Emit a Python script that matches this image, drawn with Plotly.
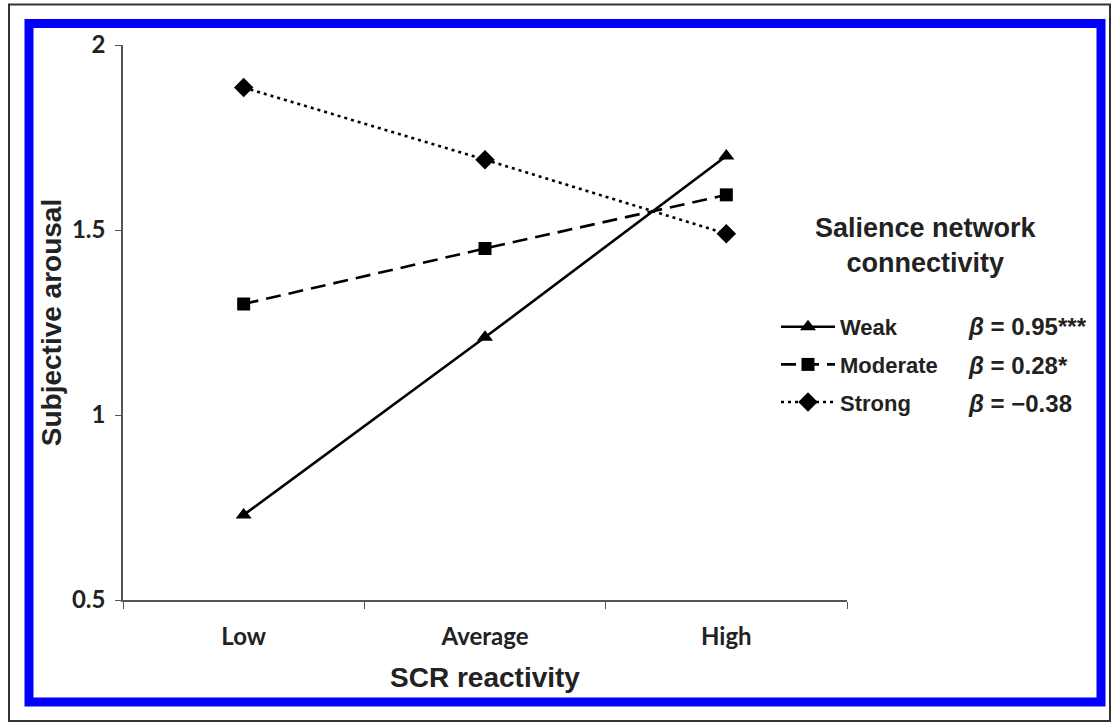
import plotly.graph_objects as go

categories = ["Low", "Average", "High"]
weak = [0.73, 1.21, 1.70]
moderate = [1.30, 1.45, 1.595]
strong = [1.885, 1.69, 1.49]
series_names = ["Weak", "Moderate", "Strong"]
betas = ["<i>β</i> = 0.95***", "<i>β</i> = 0.28*", "<i>β</i> = −0.38"]
y_ticks = [0.5, 1, 1.5, 2]

W, H = 1113, 723
L, R, T, B = 123, 1113 - 847, 45, 723 - 600
PW, PH = W - L - R, H - T - B

def px(x):
    return (x - L) / PW

def py(y):
    return (H - B - y) / PH

fig = go.Figure()
styles = [
    dict(dash="solid", symbol="triangle-up", size=14),
    dict(dash="15px,8px", symbol="square", size=13),
    dict(dash="3px,4px", symbol="diamond", size=15),
]
for i, (name, vals) in enumerate(zip(series_names, [weak, moderate, strong])):
    st = styles[i]
    fig.add_trace(go.Scatter(
        x=categories, y=vals, name=name, mode="lines+markers",
        legendgroup=name,
        line=dict(color="black", width=2.6, dash=st["dash"]),
        marker=dict(symbol=st["symbol"], size=st["size"], color="black"),
    ))

TXT = "#222"
fig.update_layout(
    width=W, height=H,
    margin=dict(l=L, r=R, t=T, b=B),
    paper_bgcolor="white", plot_bgcolor="white",
    font=dict(family="Liberation Sans, Arial", color=TXT),
    showlegend=True,
    legend=dict(
        x=px(776), y=py(306), xanchor="left", yanchor="top",
        font=dict(size=22, family="Liberation Sans, Arial", color=TXT, weight="bold"),
        itemwidth=54, tracegroupgap=6, bgcolor="rgba(0,0,0,0)",
    ),
    xaxis=dict(
        type="category", range=[-0.5, 2.5], tickson="boundaries",
        showline=True, linecolor="#555", linewidth=1.5,
        ticks="outside", ticklen=7, tickcolor="#555",
        showgrid=False, zeroline=False, ticklabelstandoff=14,
        tickfont=dict(family="Lato", size=24, color=TXT, weight="bold"),
        title=dict(text="SCR reactivity", standoff=19,
                   font=dict(family="Liberation Sans, Arial", size=28, color=TXT, weight="bold")),
    ),
    yaxis=dict(
        range=[0.5, 2], tickvals=y_ticks, ticktext=[str(v) for v in y_ticks],
        showline=True, linecolor="#555", linewidth=1.5,
        ticks="outside", ticklen=6, tickcolor="#555",
        showgrid=False, zeroline=False, ticklabelstandoff=5,
        tickfont=dict(family="Lato", size=24, color=TXT, weight="bold"),
        title=dict(text="Subjective arousal", standoff=2,
                   font=dict(family="Liberation Sans, Arial", size=28, color=TXT, weight="bold")),
    ),
)

for i, b in enumerate(betas):
    fig.add_annotation(
        xref="paper", yref="paper", x=px(966), y=py(327 + 38 * i),
        text=b, showarrow=False, xanchor="left", yanchor="middle",
        font=dict(size=24, family="Liberation Sans, Arial", color=TXT, weight="bold"),
    )

fig.add_annotation(
    xref="paper", yref="paper", x=px(926), y=py(246),
    text="<b>Salience network<br>connectivity</b>", showarrow=False,
    xanchor="center", yanchor="middle",
    font=dict(size=27, family="Liberation Sans, Arial", color=TXT),
)

# outer frames
fig.add_shape(type="rect", xref="paper", yref="paper",
              x0=px(9), x1=px(1110), y0=py(4.5), y1=py(721),
              line=dict(color="#333", width=2), layer="below")
fig.add_shape(type="rect", xref="paper", yref="paper",
              x0=px(29), x1=px(1101), y0=py(23.5), y1=py(702),
              line=dict(color="#0000ff", width=9), layer="below")

fig.write_html("out.html", config={"displayModeBar": False},
               post_script="document.body.style.margin='0';")
